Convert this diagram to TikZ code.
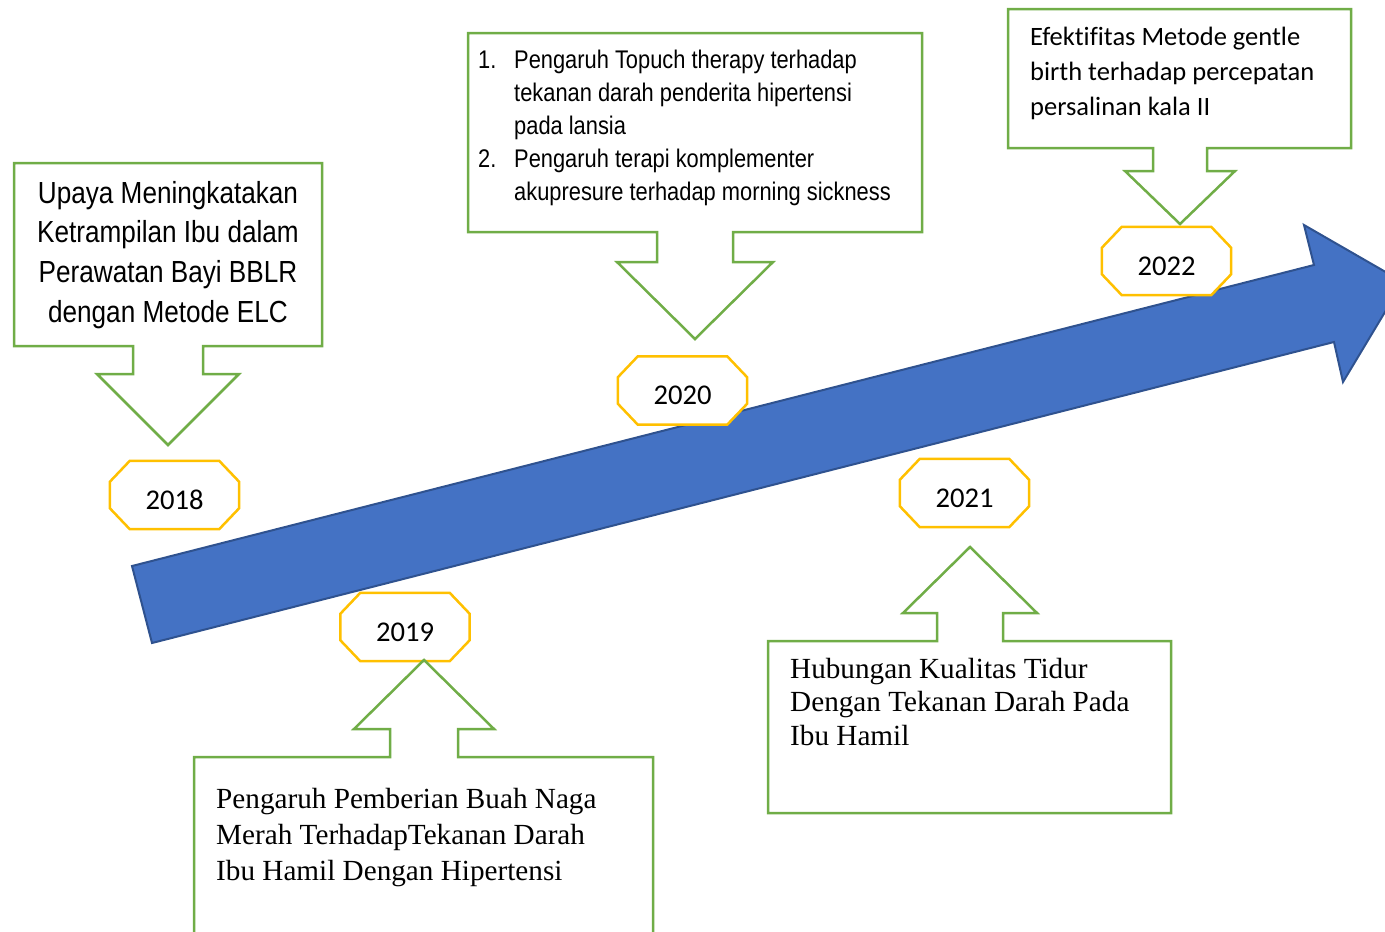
\documentclass[tikz,border=0pt]{standalone}
\usepackage{fontspec}
\setmainfont{Liberation Serif}
\newfontfamily\narrowfont[FakeStretch=0.857]{Liberation Sans}
\newfontfamily\calfont[Ligatures=NoCommon]{Carlito}
\newfontfamily\timesfont{Liberation Serif}
\usetikzlibrary{backgrounds}
\definecolor{cgreen}{HTML}{70AD47}
\definecolor{corange}{HTML}{FFC000}
\definecolor{cblue}{HTML}{4472C4}
\definecolor{cblueline}{HTML}{2F528F}
\tikzset{
  callout/.style={draw=cgreen, line width=2.5pt, fill=white, line join=miter},
  oct/.style={draw=corange, line width=2.5pt, fill=white},
  yr/.style={minimum width=129pt, minimum height=68pt, inner sep=0pt,
    text height=28pt, text depth=0pt, font=\fontsize{28.6}{34}\calfont},
  txt/.style={inner sep=0pt},
  bigarrow/.style={fill=cblue, draw=cblueline, line width=2pt, line join=miter}
}
\newcommand\octo[1]{%
  \draw[oct] ([xshift=20pt]#1.north west) -- ([xshift=-20pt]#1.north east)
    -- ([yshift=-21pt]#1.north east) -- ([yshift=21pt]#1.south east)
    -- ([xshift=-20pt]#1.south east) -- ([xshift=20pt]#1.south west)
    -- ([yshift=21pt]#1.south west) -- ([yshift=-21pt]#1.north west) -- cycle;}
\begin{document}
\begin{tikzpicture}[x=1pt,y=-1pt]
\useasboundingbox (0,0) rectangle (1385,932);
% timeline arrow
\begin{scope}[on background layer]
\draw[bigarrow] (132,566) -- (1314,265) -- (1304,225) -- (1403,282)
  -- (1343,382) -- (1334,342) -- (152,643) -- cycle;
\end{scope}
% year labels
\node[yr] (y18) at (174.5,495) {2018};
\node[yr] (y19) at (405,627) {2019};
\node[yr] (y20) at (682.5,390.5) {2020};
\node[yr] (y21) at (964.5,493) {2021};
\node[yr] (y22) at (1166.5,261) {2022};
\begin{scope}[on background layer]
\octo{y18}\octo{y19}\octo{y20}\octo{y21}\octo{y22}
\end{scope}
% callouts
\draw[callout] (14,163) -- (322,163) -- (322,346) -- (203,346) -- (203,374)
  -- (239,374) -- (168,445) -- (97,374) -- (133,374) -- (133,346) -- (14,346) -- cycle;
\draw[callout] (468,33) -- (922,33) -- (922,232) -- (733,232) -- (733,262)
  -- (773,262) -- (695,339) -- (617,262) -- (657,262) -- (657,232) -- (468,232) -- cycle;
\draw[callout] (1008,9) -- (1351,9) -- (1351,148) -- (1207,148) -- (1207,171)
  -- (1235,171) -- (1180,224) -- (1125,171) -- (1153,171) -- (1153,148) -- (1008,148) -- cycle;
\draw[callout] (194,950) -- (194,757) -- (390,757) -- (390,729) -- (354,729)
  -- (424,660) -- (494,729) -- (458,729) -- (458,757) -- (653,757) -- (653,950) -- cycle;
\draw[callout] (768,813) -- (768,641) -- (937,641) -- (937,613) -- (903,613)
  -- (970,547) -- (1037,613) -- (1003,613) -- (1003,641) -- (1171,641) -- (1171,813) -- cycle;
% texts
\node[txt, anchor=base] (t18) at (168,203) {\parbox[t]{300pt}{\centering\fontsize{30.5}{39.7}\narrowfont
  Upaya Meningkatakan\\ Ketrampilan Ibu dalam\\ Perawatan Bayi BBLR\\ dengan Metode ELC}};
\node[txt, anchor=base west] (t20) at (478,68) {\parbox[t]{440pt}{\raggedright\fontsize{25.5}{33}\narrowfont
  \makebox[36pt][l]{1.}Pengaruh Topuch therapy terhadap\\
  \hspace*{36pt}tekanan darah penderita hipertensi\\
  \hspace*{36pt}pada lansia\\
  \makebox[36pt][l]{2.}Pengaruh terapi komplementer\\
  \hspace*{36pt}akupresure terhadap morning sickness}};
\node[txt, anchor=base west] (t22) at (1030,45) {\parbox[t]{330pt}{\raggedright\fontsize{26.5}{35}\calfont
  Efektifitas Metode gentle\\ birth terhadap percepatan\\ persalinan kala II}};
\node[txt, anchor=base west] (t19) at (216,808) {\parbox[t]{430pt}{\raggedright\fontsize{29.2}{36}\timesfont
  Pengaruh Pemberian Buah Naga\\ Merah TerhadapTekanan Darah\\ Ibu Hamil Dengan Hipertensi}};
\node[txt, anchor=base west] (t21) at (790,678) {\parbox[t]{380pt}{\raggedright\fontsize{29.2}{33.5}\timesfont
  Hubungan Kualitas Tidur\\ Dengan Tekanan Darah Pada\\ Ibu Hamil}};
\end{tikzpicture}
\end{document}
